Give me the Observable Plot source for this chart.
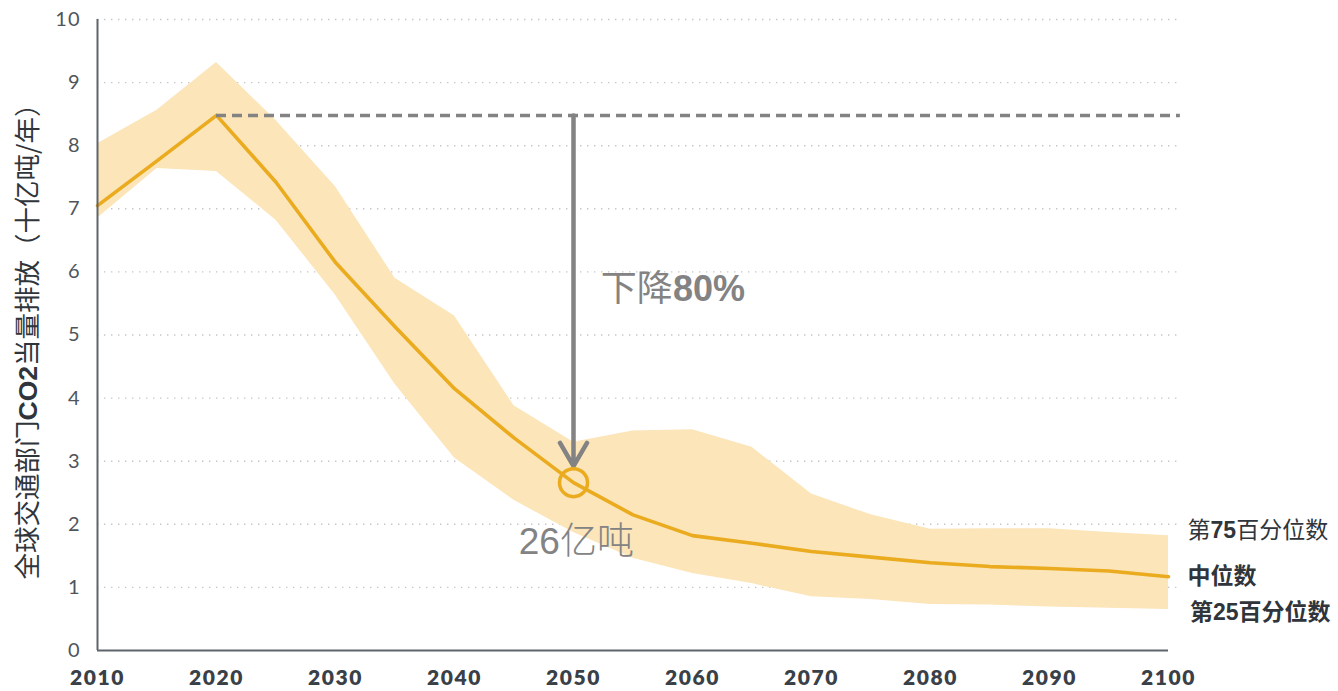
<!DOCTYPE html>
<html>
<head>
<meta charset="utf-8">
<script src="https://cdn.jsdelivr.net/npm/d3@7"></script>
<script src="https://cdn.jsdelivr.net/npm/@observablehq/plot@0.6"></script>
<style>
  html, body { margin: 0; padding: 0; background: #fff; }
</style>
</head>
<body>
<div id="chart"></div>
<script>
// ---- data ----
const years  = [2010, 2015, 2020, 2025, 2030, 2035, 2040, 2045, 2050, 2055, 2060, 2065, 2070, 2075, 2080, 2085, 2090, 2095, 2100];
const median = [7.05, 7.76, 8.48, 7.42, 6.15, 5.13, 4.15, 3.37, 2.66, 2.15, 1.82, 1.70, 1.57, 1.48, 1.39, 1.33, 1.30, 1.26, 1.17];
const p75    = [8.03, 8.56, 9.32, 8.40, 7.35, 5.90, 5.30, 3.88, 3.30, 3.48, 3.50, 3.22, 2.48, 2.15, 1.92, 1.93, 1.93, 1.87, 1.82];
const p25    = [6.85, 7.64, 7.59, 6.82, 5.63, 4.22, 3.05, 2.38, 1.87, 1.46, 1.22, 1.06, 0.85, 0.81, 0.73, 0.72, 0.69, 0.67, 0.65];
const xTicks = [2010, 2020, 2030, 2040, 2050, 2060, 2070, 2080, 2090, 2100];
const yTicks = [0, 1, 2, 3, 4, 5, 6, 7, 8, 9, 10];

const baseYear = 2020, baseValue = 8.48;
const targetYear = 2050, targetValue = 2.66, arrowTip = 2.92;
const yLabel = "全球交通部门CO2当量排放（十亿吨/年）";
const dropLabel = "下降80%";
const valueLabel = "26亿吨";
const legendLabels = ["第75百分位数", "中位数", "第25百分位数"];
const legendValues = [1.90, 1.17, 0.60];

const rows = years.map((year, i) => ({year, median: median[i], p25: p25[i], p75: p75[i]}));

const ORANGE = "#eaab1f", BAND = "#fbe5b9", GREY = "#838383", AXIS = "#5f656b";
const CJK = "'Noto Sans CJK SC', 'Liberation Sans', sans-serif";
const LAT = "Lato, 'Open Sans', sans-serif";

const chart = Plot.plot({
  width: 1338,
  height: 691,
  marginLeft: 97,
  marginRight: 170,
  marginTop: 19,
  marginBottom: 41,
  x: {domain: [2010, 2100]},
  y: {domain: [0, 10]},
  style: {fontFamily: LAT, background: "#fff", overflow: "visible"},
  marks: [
    Plot.ruleY(yTicks.slice(1), {x1: 2010, x2: 2101, stroke: "#c6c6c6", strokeWidth: 1.4, strokeDasharray: "1.4,5.6"}),
    Plot.areaY(rows, {x: "year", y1: "p25", y2: "p75", fill: BAND}),
    Plot.line(rows, {x: "year", y: "median", stroke: ORANGE, strokeWidth: 3.6}),
    Plot.ruleY([baseValue], {x1: baseYear, x2: 2101, stroke: GREY, strokeWidth: 3.5, strokeDasharray: "10,6", ariaLabel: "baseline"}),
    Plot.arrow([{x: targetYear, y1: baseValue, y2: arrowTip}], {x1: "x", x2: "x", y1: "y1", y2: "y2", stroke: GREY, strokeWidth: 4.5, headLength: 9, headAngle: 60, ariaLabel: "droparrow"}),
    Plot.dot([{x: targetYear, y: targetValue}], {x: "x", y: "y", r: 14, stroke: ORANGE, strokeWidth: 3.5, fill: "none"}),
    Plot.ruleX([2010], {y1: 0, y2: 10, stroke: AXIS, strokeWidth: 2}),
    Plot.ruleY([0], {x1: 2010, x2: 2100, stroke: AXIS, strokeWidth: 2}),
    Plot.axisX({ticks: xTicks, tickSize: 0, tickPadding: 20, tickFormat: d => String(d), fontSize: 21, label: null}),
    Plot.axisY({ticks: yTicks, tickSize: 0, tickPadding: 17, fontSize: 20, label: null}),
    Plot.text([yLabel], {text: d => d, frameAnchor: "left", textAnchor: "middle", dx: -69, rotate: -90, fontSize: 26.5, fill: "#2f353b", fontFamily: CJK}),
    Plot.text([{x: 2052.3, y: 5.72, t: dropLabel}], {x: "x", y: "y", text: "t", textAnchor: "start", fontSize: 36, fill: GREY, fontFamily: CJK}),
    Plot.text([{x: 2045.4, y: 1.71, t: valueLabel}], {x: "x", y: "y", text: "t", textAnchor: "start", fontSize: 37, fill: GREY, fontFamily: CJK}),
    Plot.text(legendLabels.map((t, i) => ({t, y: legendValues[i], x: i === 2 ? 2101.8 : 2101.6})),
      {x: "x", y: "y", text: "t", textAnchor: "start", fontSize: 23, fill: "#2f353b", fontFamily: CJK})
  ]
});

document.getElementById("chart").appendChild(chart);

// ---- styling post-process ----
const svg = d3.select(chart);
svg.selectAll('[aria-label="x-axis tick label"] text')
  .style("font-weight", "800").style("fill", "#3a4048").style("letter-spacing", "1.6px");
svg.selectAll('[aria-label="y-axis tick label"] text')
  .style("font-weight", "400").style("fill", "#4f555b").style("letter-spacing", "1px");

function rich(full, parts, weightAll) {
  svg.selectAll("text").each(function() {
    if (this.textContent !== full) return;
    const el = d3.select(this);
    el.text(null);
    if (weightAll) el.style("font-weight", weightAll);
    parts.forEach(([s, w, fam]) => {
      const ts = el.append("tspan").text(s).style("font-weight", w);
      if (fam) ts.style("font-family", fam);
    });
  });
}
const LB = "'Liberation Sans', Arial, sans-serif";
rich(yLabel, [["全球交通部门", 400], ["CO2", 700, LB], ["当量排放（十亿吨/年）", 400]]);
rich(dropLabel, [["下降", 400], ["80%", 700, LB]]);
rich(valueLabel, [["26", 400, LB], ["亿吨", 300]]);
rich(legendLabels[0], [["第", 400], ["75", 700, LB], ["百分位数", 400]]);
rich(legendLabels[1], [["中位数", 700]]);
rich(legendLabels[2], [["第", 600], ["25", 700, LB], ["百分位数", 600]]);

// drop shadows on the reference line and arrow
svg.insert("defs", ":first-child").html(
  '<filter id="shadow" filterUnits="userSpaceOnUse" x="0" y="0" width="1338" height="691">' +
  '<feDropShadow dx="0" dy="5" stdDeviation="3" flood-color="#000" flood-opacity="0.22"/></filter>');
svg.selectAll('[aria-label="baseline"], [aria-label="droparrow"]').attr("filter", "url(#shadow)");
</script>
</body>
</html>
